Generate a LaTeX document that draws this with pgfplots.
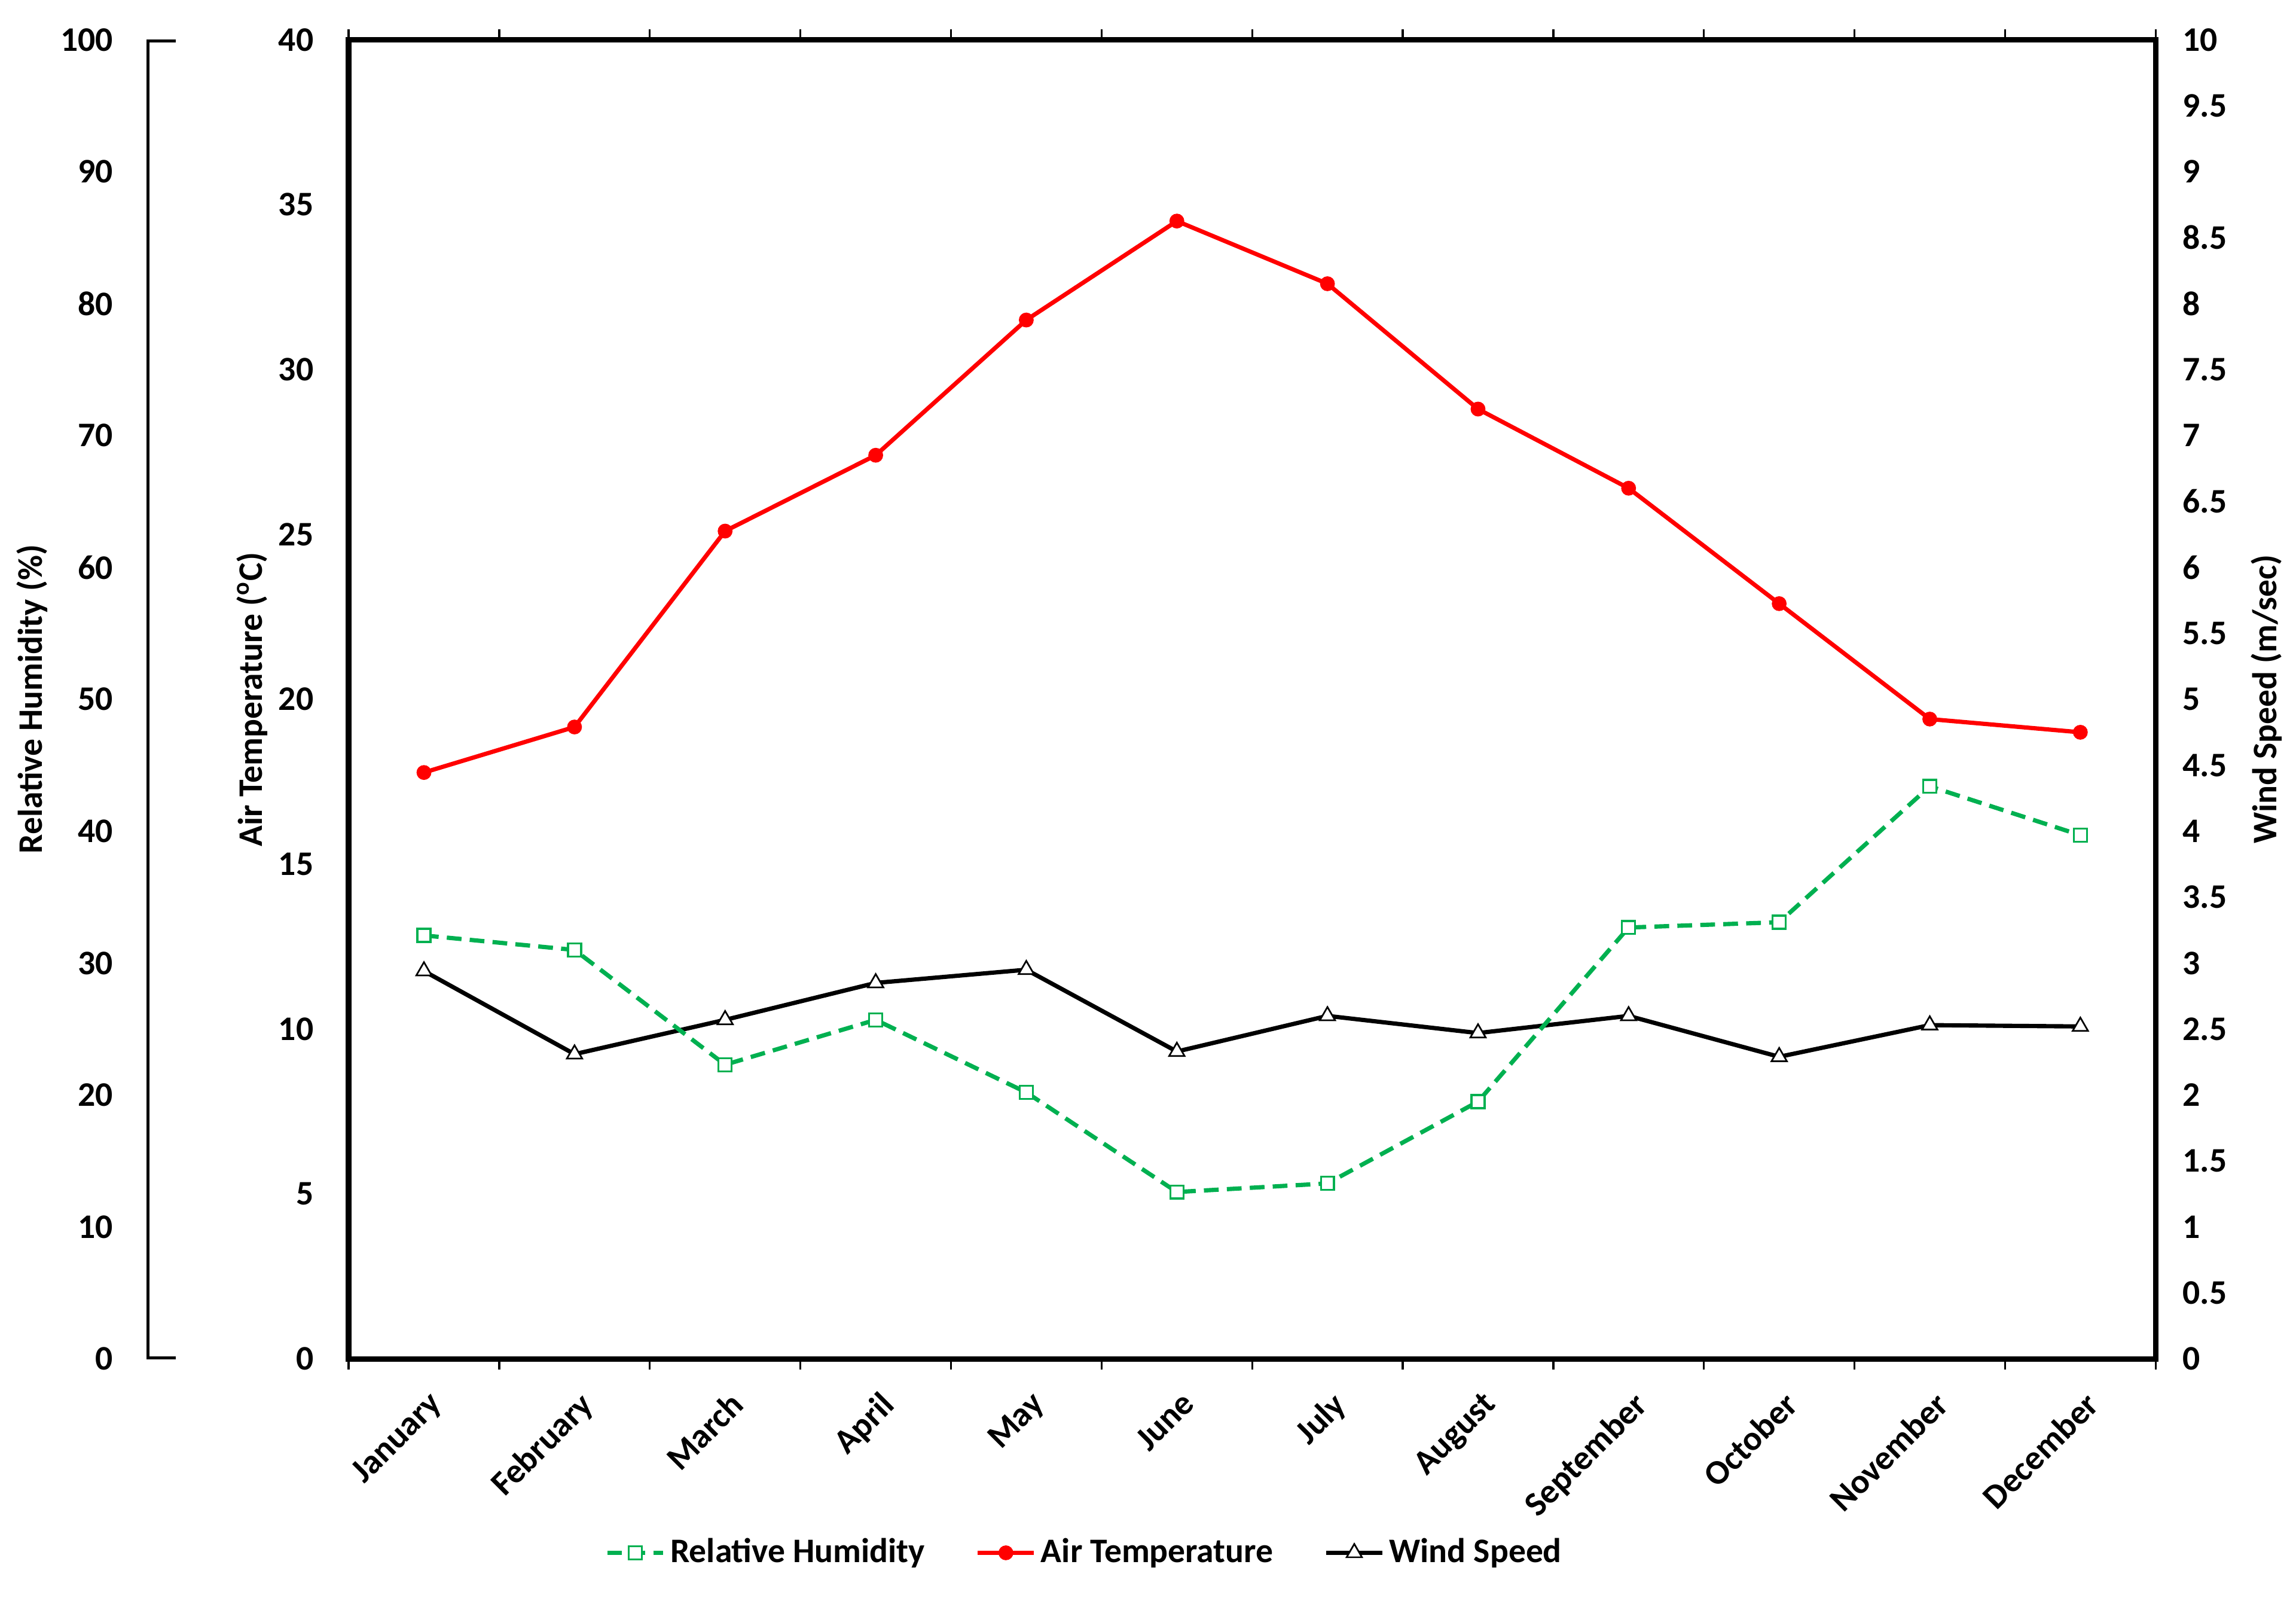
\documentclass[border=0pt]{standalone}
\usepackage{fontspec}
\setmainfont{Carlito}
\usepackage{pgfplots}
\pgfplotsset{compat=1.18}
\definecolor{rhgreen}{HTML}{00B050}
\newcommand{\ff}{\fontsize{10.5}{12.6}\selectfont\bfseries}
\begin{document}
\begin{tikzpicture}
\pgfplotsset{
  every axis/.append style={
    width=550.9pt, height=402.1pt, scale only axis,
    xmin=0.5, xmax=12.5,
    tick label style={font=\ff},
    label style={font=\ff},
    /pgf/number format/assume math mode=true,
  },
  rhstyle/.style={rhgreen, line width=1.3pt, dash pattern=on 4.5pt off 2.5pt, mark=square*, mark size=2pt, mark options={solid, fill=white, line width=0.6pt}},
  tastyle/.style={red, line width=1.3pt, mark=*, mark size=1.6pt, mark options={solid}},
  wsstyle/.style={black, line width=1.3pt, mark=triangle*, mark size=2.7pt, mark options={solid, fill=white, line width=0.5pt}},
}
% main axis: air temperature
\begin{axis}[
  name=main,
  ymin=0, ymax=40, ytick={0,5,...,40},
  axis line style={line width=1.7pt},
  xtick={0.5,1.5,...,12.5},
  x tick label as interval,
  xticklabels={January,February,March,April,May,June,July,August,September,October,November,December},
  xticklabel style={xshift=1pt, yshift=-6pt, rotate=45, anchor=north east, inner sep=0pt},
  tick align=outside,
  major tick length=3.2pt,
  xtick style={black, line width=0.6pt},
  ytick style={draw=none},
  yticklabel style={xshift=-4pt},
  ylabel={Air Temperature (\textsuperscript{o}C)},
  ylabel style={at={(axis description cs:-0.0535,0.5)}, anchor=center},
  legend style={at={(axis description cs:0.408,-0.147)}, anchor=center, draw=none, fill=none, font=\ff, legend columns=3, /tikz/every even column/.append style={column sep=14pt}, nodes={inner sep=1.5pt}},
]
\addlegendimage{rhstyle}
\addplot[tastyle] coordinates {(1,17.78) (2,19.16) (3,25.1) (4,27.4) (5,31.5) (6,34.5) (7,32.6) (8,28.8) (9,26.4) (10,22.9) (11,19.4) (12,19.0)};
\addlegendimage{wsstyle}
\legend{Relative Humidity, Air Temperature, Wind Speed}
\end{axis}
% wind speed axis (right)
\begin{axis}[
  ymin=0, ymax=10, ytick={0,0.5,...,10},
  axis x line=none, axis y line*=right,
  y axis line style={draw=none},
  ytick style={draw=none}, major tick length=0pt,
  yticklabel style={xshift=4.7pt},
  ylabel={Wind Speed (m/sec)},
  ylabel style={at={(axis description cs:1.0613,0.5)}, anchor=center},
]
\addplot[wsstyle] coordinates {(1,2.94) (2,2.31) (3,2.57) (4,2.85) (5,2.95) (6,2.33) (7,2.60) (8,2.47) (9,2.60) (10,2.29) (11,2.53) (12,2.52)};
\end{axis}
% relative humidity data axis
\begin{axis}[hide axis, ymin=0, ymax=100]
\addplot[rhstyle] coordinates {(1,32.1) (2,31.0) (3,22.3) (4,25.7) (5,20.2) (6,12.65) (7,13.3) (8,19.5) (9,32.7) (10,33.1) (11,43.4) (12,39.7)};
\end{axis}
% relative humidity axis decoration (offset left)
\begin{axis}[
  at={(-61.6pt,0pt)}, anchor=south west,
  ymin=0, ymax=100, ytick={0,10,...,100},
  axis x line=none, axis y line*=left,
  y axis line style={draw=none},
  ytick style={draw=none}, major tick length=0pt,
  yticklabel style={xshift=-6.7pt},
  ylabel={Relative Humidity (\%)},
  ylabel style={at={(axis description cs:-0.0634,0.5)}, anchor=center},
]
\draw[line width=1.7pt, line cap=rect] ([xshift=8pt]rel axis cs:0,0) -- (rel axis cs:0,0) -- (rel axis cs:0,1) -- ([xshift=8pt]rel axis cs:0,1);
\end{axis}
\pgfresetboundingbox
\path[use as bounding box] (-106.3pt,-72.7pt) rectangle (593.7pt,414.2pt);
\end{tikzpicture}
\end{document}
